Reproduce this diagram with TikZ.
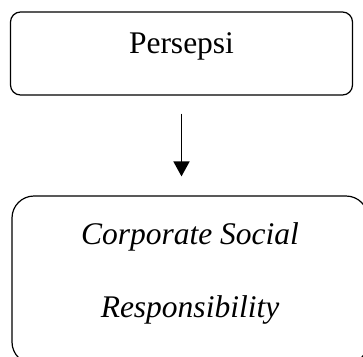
\documentclass[tikz,border=0pt]{standalone}
\usepackage{fontspec}
\setmainfont{Liberation Serif}
\usetikzlibrary{arrows.meta,positioning}

\begin{document}
\begin{tikzpicture}[
  x=1pt, y=-1pt,
  font=\fontsize{31.5}{72.5}\selectfont,
  box/.style={draw, line width=1.2pt, align=center, inner sep=0pt},
  arr/.style={-{Triangle[width=16pt,length=15pt]}, line width=1.7pt}
]
\useasboundingbox (0,0) rectangle (363,356);
\begin{scope}
\clip (0,0) rectangle (363,356);
% persepsi box
\node[box, rounded corners=10pt, minimum width=342pt, minimum height=83pt,
  text height=11pt, text depth=11pt] (persepsi) at (181.5,53.5) {Persepsi};
% csr box, runs off the page on the right and bottom
\node[box, rounded corners=22pt, minimum width=356pt, minimum height=168pt] (csr) at (190,280) {};
\node[align=center, font=\fontsize{31.5}{72.5}\selectfont\itshape] (csrtext) at (190,273.5)
  {Corporate Social\\Responsibility};
% arrow
\draw[arr, shorten <=18pt, shorten >=19pt] (persepsi.south) -- (persepsi.south |- csr.north);
\end{scope}
\end{tikzpicture}
\end{document}
